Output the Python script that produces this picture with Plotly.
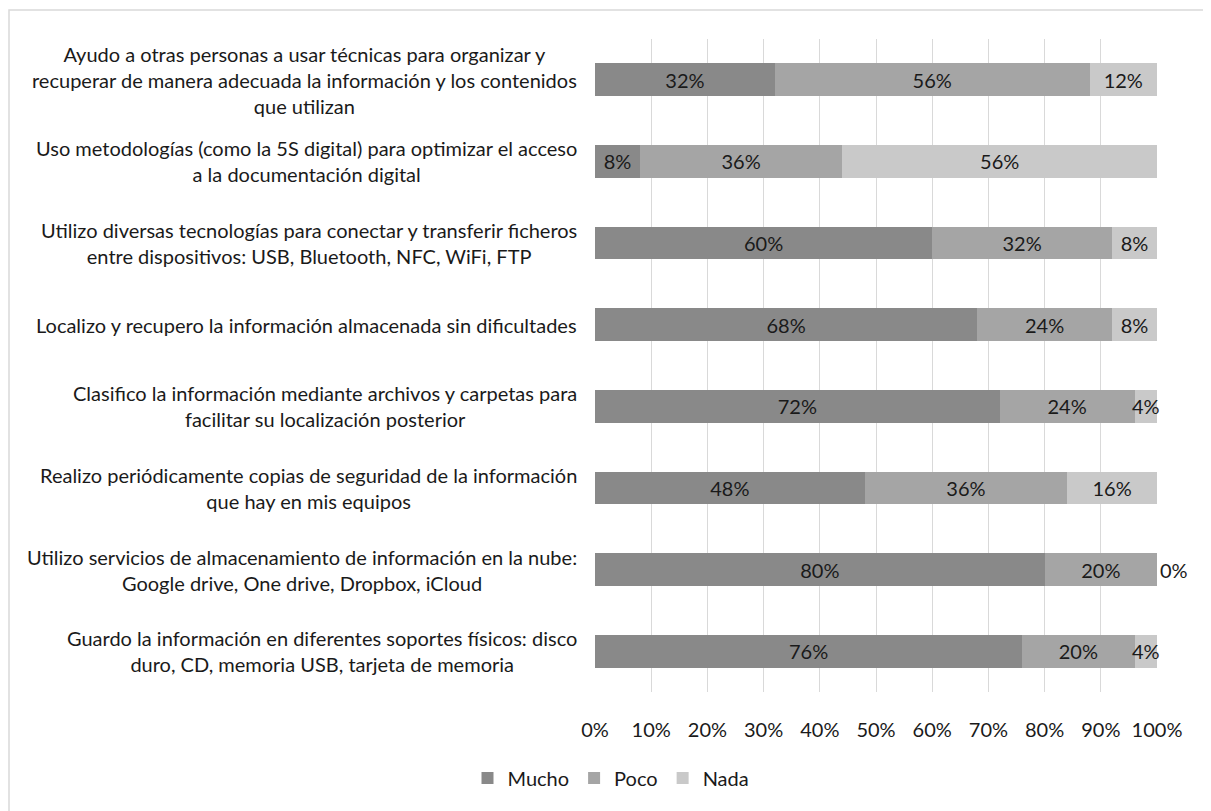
import plotly.graph_objects as go

categories = [
    "Ayudo a otras personas a usar técnicas para organizar y<br>recuperar de manera adecuada la información y los contenidos<br>que utilizan",
    "Uso metodologías (como la 5S digital) para optimizar el acceso<br>a la documentación digital",
    "Utilizo diversas tecnologías para conectar y transferir ficheros<br>entre dispositivos: USB, Bluetooth, NFC, WiFi, FTP",
    "Localizo y recupero la información almacenada sin dificultades",
    "Clasifico la información mediante archivos y carpetas para<br>facilitar su localización posterior",
    "Realizo periódicamente copias de seguridad de la información<br>que hay en mis equipos",
    "Utilizo servicios de almacenamiento de información en la nube:<br>Google drive, One drive, Dropbox, iCloud",
    "Guardo la información en diferentes soportes físicos: disco<br>duro, CD, memoria USB, tarjeta de memoria",
]
mucho = [32, 8, 60, 68, 72, 48, 80, 76]
poco = [56, 36, 32, 24, 24, 36, 20, 20]
nada = [12, 56, 8, 8, 4, 16, 0, 4]
x_ticks = [0, 10, 20, 30, 40, 50, 60, 70, 80, 90, 100]
x_tick_text = [f"{v}%" for v in x_ticks]

FONT = "Lato"
FS = 20
TXT = "#1a1a1a"
series = [("Mucho", mucho, "#898989"), ("Poco", poco, "#a5a5a5"), ("Nada", nada, "#c9c9c9")]

fig = go.Figure()
for name, vals, col in series:
    fig.add_trace(go.Bar(
        y=categories, x=vals, name=name, orientation="h",
        marker=dict(color=col, line=dict(width=0)),
        text=[f"{v}%" for v in vals],
        textposition=["outside" if v == 0 else "inside" for v in vals],
        insidetextanchor="middle", constraintext="none", textangle=0,
        textfont=dict(family=FONT, size=FS, color=TXT),
        cliponaxis=False,
    ))

for c in categories:
    fig.add_annotation(x=0, xref="paper", y=c, yref="y", text=c, showarrow=False,
                       xanchor="right", yanchor="middle", align="center", xshift=-16,
                       font=dict(family=FONT, size=FS, color=TXT))

OFF = 8  # page body margin
W, H = 1211 - OFF, 811 - OFF
L, R, T, B = 595 - OFF, 54, 39 - OFF, 811 - 692
pw, ph = W - L - R, H - T - B
def px(x): return (x - OFF - L) / pw
def py(y): return 1 - (y - OFF - T) / ph

fig.add_shape(type="rect", xref="paper", yref="paper",
              x0=px(9), x1=px(1216), y0=py(816), y1=py(10),
              line=dict(color="#d9d9d9", width=1.5), fillcolor="rgba(0,0,0,0)", layer="below")

fig.update_layout(
    width=W, height=H, barmode="stack", bargap=0.6,
    margin=dict(l=L, r=R, t=T, b=B, autoexpand=False),
    paper_bgcolor="white", plot_bgcolor="white",
    font=dict(family=FONT, size=FS, color=TXT),
    xaxis=dict(range=[0, 100], tickmode="array", tickvals=x_ticks, ticktext=x_tick_text,
               showgrid=True, gridcolor="#d9d9d9", gridwidth=1, zeroline=False, showline=False,
               ticklabelstandoff=24, tickfont=dict(family=FONT, size=FS, color=TXT),
               fixedrange=True),
    yaxis=dict(autorange="reversed", showticklabels=False, showgrid=False, zeroline=False,
               showline=False, fixedrange=True),
    legend=dict(orientation="h", traceorder="normal", x=px(611), xanchor="center",
                y=py(778), yanchor="middle",
                font=dict(family=FONT, size=FS, color=TXT), bgcolor="rgba(0,0,0,0)"),
    showlegend=True,
)

fig.write_html("out.html")
